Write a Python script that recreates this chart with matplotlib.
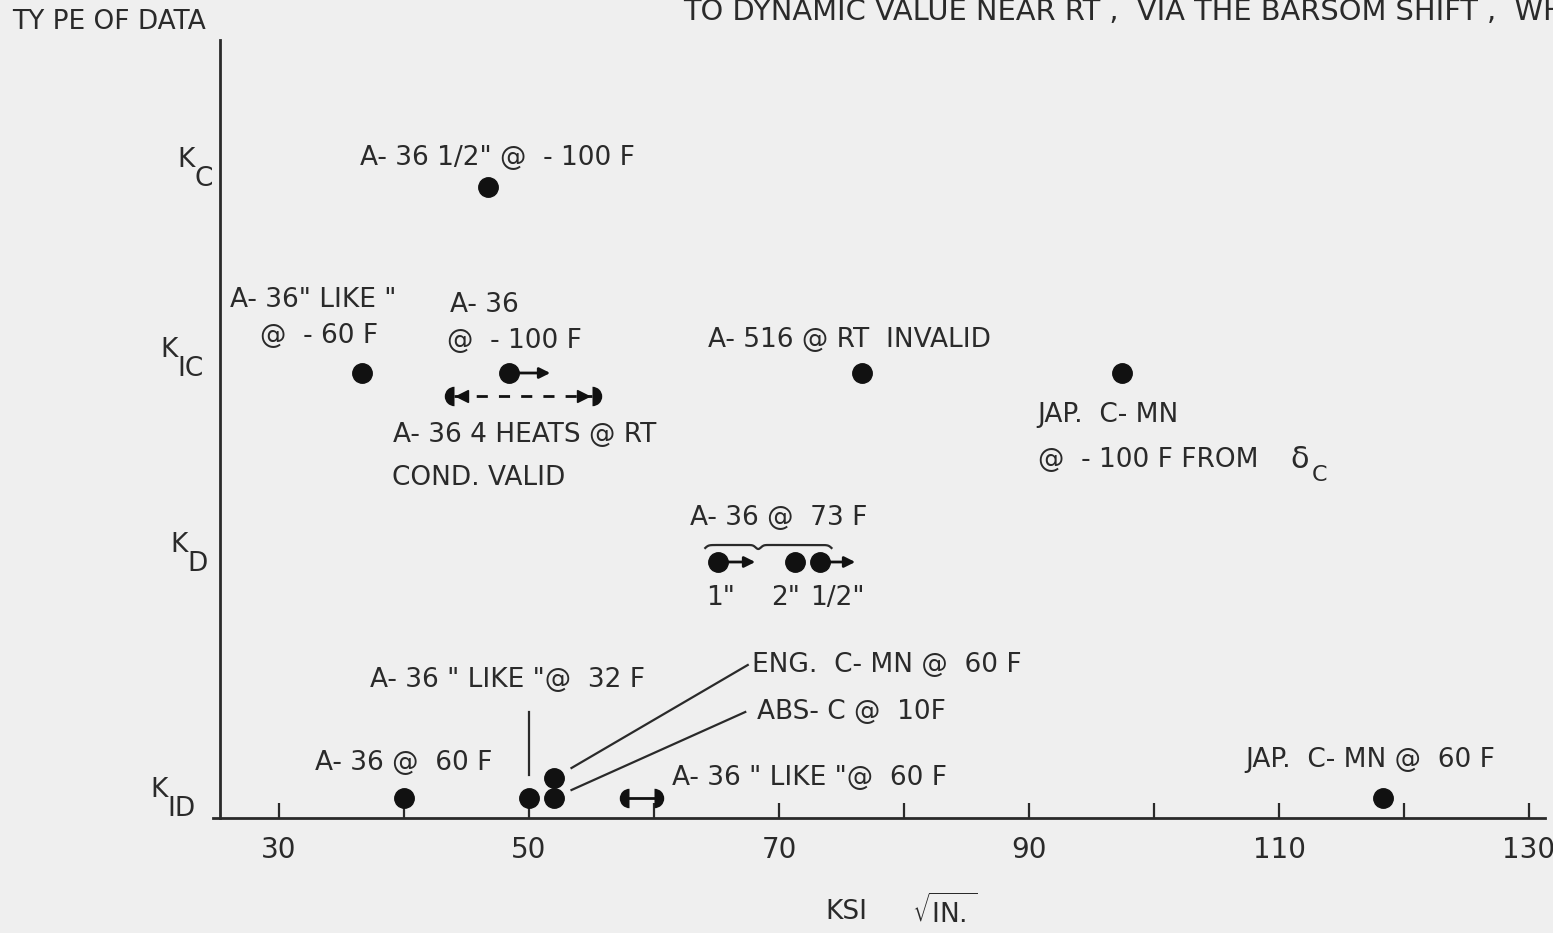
import matplotlib.pyplot as plt
import numpy as np

# fracture toughness values (ksi sqrt(in.)) grouped by type of data
LEVELS = {"KC": 6.31, "KIC": 4.45, "KD": 2.56, "KID": 0.2}

kc_x = [46.7]                       # A-36 1/2" @ -100 F
kic_x = [36.6, 48.4, 76.6, 97.4]    # LIKE @ -60F, A-36 @ -100F, A-516 @ RT, JAP C-MN @ -100F
kic_arrow_end = 51.7                # A-36 @ -100 F is a lower bound
kic_range = (44.0, 55.0)            # A-36 4 heats @ RT, cond. valid
kd_x = [65.1, 71.3, 73.3]           # A-36 @ 73 F, 1", 2", 1/2"
kd_arrow_ends = [68.1, None, 76.1]
kd_sizes = ['1"', '2"', '1/2"']
kd_size_shift = [2, -7, 12]         # label nudges, points
kid_x = [40.0, 50.0, 52.0, 118.3]   # A-36 @ 60F, LIKE @ 32F, ABS-C @ 10F, JAP C-MN @ 60F
kid_eng_x = 52.0                    # ENG C-MN @ 60 F (stacked above ABS-C)
kid_eng_y = 0.4
kid_range = (58.0, 60.0)            # A-36 "LIKE" @ 60 F

x_major = [30, 50, 70, 90, 110, 130]
x_minor = [40, 60, 80, 100, 120]

INK = "#2a2a2a"
DOT = "#111111"
BG = "#efefef"

plt.rcParams["font.family"] = ["DejaVu Sans"]
plt.rcParams["text.color"] = INK

fig = plt.figure(figsize=(15.53, 9.33), dpi=100, facecolor=BG)
ax = fig.add_axes([0, 0, 1, 1], facecolor=BG)
ax.set_xlim(7.68, 131.92)
ax.set_ylim(-1.15, 8.18)

for side in ("top", "right"):
    ax.spines[side].set_visible(False)
ax.spines["left"].set_position(("data", 25.3))
ax.spines["left"].set_bounds(0, 7.78)
ax.spines["bottom"].set_position(("data", 0))
ax.spines["bottom"].set_bounds(24.7, 131.3)
for side in ("left", "bottom"):
    ax.spines[side].set_linewidth(2)
    ax.spines[side].set_color(INK)

ax.set_yticks([])
ax.set_xticks(x_major)
ax.set_xticks(x_minor, minor=True)
ax.tick_params(axis="x", which="both", direction="in", length=11, width=1.6,
               color=INK, labelsize=20, pad=13, labelcolor=INK)
ax.xaxis.set_ticks_position("bottom")

dot = dict(marker="o", markersize=14, color=DOT, linestyle="none", zorder=5)
TXT = dict(fontsize=19, color=INK, va="center", ha="left")


def arrow(x0, x1, y):
    ax.annotate("", xy=(x1, y), xytext=(x0, y),
                arrowprops=dict(arrowstyle="-|>", lw=2, color=DOT,
                                mutation_scale=16, shrinkA=0, shrinkB=0), zorder=4)


def half_dots(x0, x1, y):
    ax.plot([x0], [y], marker="o", markersize=14, fillstyle="left",
            markeredgewidth=0, color=DOT, zorder=5)
    ax.plot([x1], [y], marker="o", markersize=14, fillstyle="right",
            markeredgewidth=0, color=DOT, zorder=5)


def ktype(x, y, main, sub):
    ax.text(x, y, main, **TXT)
    ax.annotate(sub, xy=(x, y), xytext=(12, -14), textcoords="offset points",
                fontsize=19, color=INK, va="center", ha="left")


# K_C
ax.plot(kc_x, [LEVELS["KC"]] * len(kc_x), **dot)
ax.text(36.5, 6.60, "A- 36 1/2\" @  - 100 F", **TXT)

# K_IC
y_rng = LEVELS["KIC"] - 0.23
ax.plot(kic_x, [LEVELS["KIC"]] * len(kic_x), **dot)
arrow(kic_x[1], kic_arrow_end, LEVELS["KIC"])
ax.plot(kic_range, [y_rng] * 2, linestyle=(0, (4, 4)), lw=2, color=DOT)
half_dots(kic_range[0], kic_range[1], y_rng)
ax.plot([kic_range[0] + 0.6], [y_rng], marker="<", markersize=8, color=DOT)
ax.plot([kic_range[1] - 0.7], [y_rng], marker=">", markersize=8, color=DOT)
ax.text(26.1, 5.18, "A- 36\" LIKE \"", **TXT)
ax.text(28.5, 4.82, "@  - 60 F", **TXT)
ax.text(43.7, 5.13, "A- 36", **TXT)
ax.text(43.4, 4.77, "@  - 100 F", **TXT)
ax.text(39.1, 3.83, "A- 36 4 HEATS @ RT", **TXT)
ax.text(39.0, 3.40, "COND. VALID", **TXT)
ax.text(64.3, 4.78, "A- 516 @ RT  INVALID", **TXT)
ax.text(90.7, 4.03, "JAP.  C- MN", **TXT)
ax.text(90.7, 3.58, "@  - 100 F FROM", **TXT)
ax.text(110.9, 3.58, "δ", fontsize=22, color=INK, va="center", ha="left")
ax.text(112.6, 3.43, "C", fontsize=16, color=INK, va="center", ha="left")

# K_D
ax.plot(kd_x, [LEVELS["KD"]] * len(kd_x), **dot)
for x0, x1 in zip(kd_x, kd_arrow_ends):
    if x1 is not None:
        arrow(x0, x1, LEVELS["KD"])
for x, s, dx in zip(kd_x, kd_sizes, kd_size_shift):
    ax.annotate(s, xy=(x, LEVELS["KD"] - 0.36), xytext=(dx, 0), textcoords="offset points",
                fontsize=19, color=INK, va="center", ha="center")
ax.text(62.9, 3.00, "A- 36 @  73 F", **TXT)
bx = np.linspace(min(kd_x) - 1.0, max(kd_x) + 0.9, 200)
t = (bx - bx[0]) / (bx[-1] - bx[0])
by = 2.73 + 0.03 * (np.tanh(t * 40) + np.tanh((1 - t) * 40)) \
    - 0.04 * np.exp(-((t - 0.42) / 0.03) ** 2)
ax.plot(bx, by - 0.06, lw=1.6, color=INK)

# K_ID
ax.plot(kid_x, [LEVELS["KID"]] * len(kid_x), **dot)
ax.plot([kid_eng_x], [kid_eng_y], **dot)
ax.plot(kid_range, [LEVELS["KID"]] * 2, lw=2, color=DOT)
half_dots(kid_range[0], kid_range[1], LEVELS["KID"])
ax.text(32.9, 0.55, "A- 36 @  60 F", **TXT)
ax.text(37.3, 1.38, "A- 36 \" LIKE \"@  32 F", **TXT)
ax.plot([kid_x[1], kid_x[1]], [0.43, 1.06], lw=1.6, color=INK)
ax.plot([53.4, 67.5], [0.50, 1.53], lw=1.6, color=INK)
ax.plot([53.4, 67.3], [0.28, 1.06], lw=1.6, color=INK)
ax.text(67.8, 1.53, "ENG.  C- MN @  60 F", **TXT)
ax.text(68.2, 1.06, "ABS- C @  10F", **TXT)
ax.text(61.4, 0.40, "A- 36 \" LIKE \"@  60 F", **TXT)
ax.text(107.3, 0.58, "JAP.  C- MN @  60 F", **TXT)

# type-of-data labels along the vertical axis
ktype(21.9, 6.58, "K", "C")
ktype(20.5, 4.68, "K", "IC")
ktype(21.3, 2.73, "K", "D")
ktype(19.7, 0.28, "K", "ID")

ax.text(8.64, 7.96, "TY PE OF DATA", **TXT)
ax.text(62.3, 8.06, "TO DYNAMIC VALUE NEAR RT ,  VIA THE BARSOM SHIFT ,  WHERE",
        fontsize=20.8, color=INK, va="center", ha="left", clip_on=True)

# x-axis label
ax.text(73.7, -0.94, "KSI", **TXT)
ax.text(80.6, -0.94, r"$\sqrt{\mathrm{IN.}}$", fontsize=19, color=INK, va="center", ha="left")

fig.savefig("out.png", dpi=100, facecolor=BG)
